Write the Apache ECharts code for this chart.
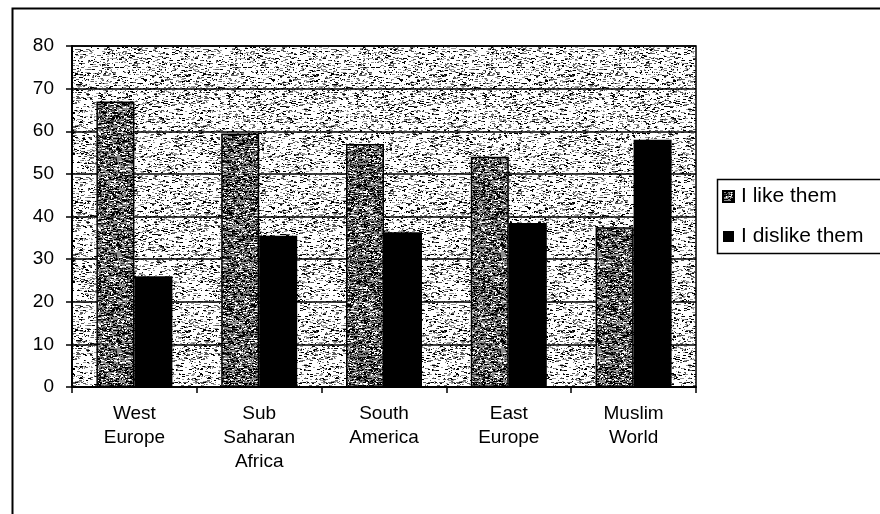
<!DOCTYPE html>
<html>
<head>
<meta charset="utf-8">
<script src="https://cdn.jsdelivr.net/npm/echarts@6/dist/echarts.min.js"></script>
<style>
  html, body { margin: 0; padding: 0; background: #fff; }
  #chart { width: 880px; height: 514px; }
</style>
</head>
<body>
<div id="chart"></div>
<script>
// Regions and opinion shares (percent)
const categories = ['West\nEurope', 'Sub\nSaharan\nAfrica', 'South\nAmerica', 'East\nEurope', 'Muslim\nWorld'];
const likeValues = [67, 59.5, 57, 54, 37.5];
const dislikeValues = [26, 35.5, 36.3, 38.5, 58];
const seriesNames = ['I like them', 'I dislike them'];
const yTicks = { min: 0, max: 80, step: 10 };

// Deterministic speckle texture for the halftone fills
function hash(x, y, s) {
  let h = (x * 374761393 + y * 668265263 + s * 982451653) | 0;
  h = Math.imul(h ^ (h >>> 13), 1274126177);
  h = h ^ (h >>> 16);
  return (h >>> 0) / 4294967295;
}
function speckle(size, bg, inks, density, seed) {
  const c = document.createElement('canvas');
  c.width = size; c.height = size;
  const g = c.getContext('2d');
  g.fillStyle = bg;
  g.fillRect(0, 0, size, size);
  for (let y = 0; y < size; y++) {
    for (let x = 0; x < size; x++) {
      const v = hash(x, y, seed);
      if (v < density) {
        g.fillStyle = inks[Math.floor(hash(x + 11, y + 5, seed) * inks.length)];
        const run = 1 + Math.floor(hash(x + 7, y + 3, seed) * 3);
        g.fillRect(x, y, run, 1);
      }
    }
  }
  return c;
}
const plotTexture = speckle(128, '#ffffff', ['#000000', '#5a5a5a', '#9a9a9a'], 0.17, 1);
const barTexture = speckle(96, '#8c8c8c', ['#000000', '#000000', '#ffffff', '#3c3c3c'], 0.42, 2);

const chart = echarts.init(document.getElementById('chart'), null, { renderer: 'canvas' });
const textFont = { fontFamily: 'Liberation Sans, Arial, sans-serif', color: '#000' };

chart.setOption({
  animation: false,
  backgroundColor: '#fff',
  grid: {
    left: 72, right: 184, top: 46, bottom: 127,
    show: true,
    backgroundColor: { image: plotTexture, repeat: 'repeat' },
    borderColor: '#000', borderWidth: 1.5
  },
  legend: {
    orient: 'vertical',
    left: 722, top: 186, padding: 0,
    itemWidth: 11, itemHeight: 11, itemGap: 19,
    icon: 'rect',
    textStyle: Object.assign({ fontSize: 21, padding: [0, 0, 0, 2] }, textFont),
    data: seriesNames
  },
  xAxis: {
    type: 'category',
    data: categories,
    axisLine: { lineStyle: { color: '#000', width: 2 } },
    axisTick: { show: true, alignWithLabel: false, length: 6, lineStyle: { color: '#000', width: 1.5 } },
    axisLabel: Object.assign({ fontSize: 19, lineHeight: 24, margin: 15, interval: 0 }, textFont),
    splitLine: { show: false }
  },
  yAxis: {
    type: 'value',
    min: yTicks.min, max: yTicks.max, interval: yTicks.step,
    axisLine: { show: true, lineStyle: { color: '#000', width: 2 } },
    axisTick: { show: true, length: 6, lineStyle: { color: '#000', width: 1.5 } },
    axisLabel: Object.assign({ fontSize: 19, margin: 18 }, textFont),
    splitLine: { show: true, lineStyle: { color: '#000', width: 1.6 } }
  },
  series: [
    {
      name: seriesNames[0], type: 'bar', data: likeValues,
      barWidth: 38, barGap: '0%',
      itemStyle: { color: { image: barTexture, repeat: 'repeat' }, borderColor: '#000', borderWidth: 1.5 }
    },
    {
      name: seriesNames[1], type: 'bar', data: dislikeValues,
      barWidth: 38, barGap: '0%',
      itemStyle: { color: '#000' }
    }
  ],
  graphic: [
    { type: 'rect', left: 10, top: 6, shape: { width: 900, height: 540 },
      style: { fill: 'none', stroke: '#000', lineWidth: 2 }, silent: true },
    { type: 'rect', left: 715, top: 177, shape: { width: 200, height: 74 },
      style: { fill: 'none', stroke: '#000', lineWidth: 1.5 }, silent: true }
  ]
});
</script>
</body>
</html>
